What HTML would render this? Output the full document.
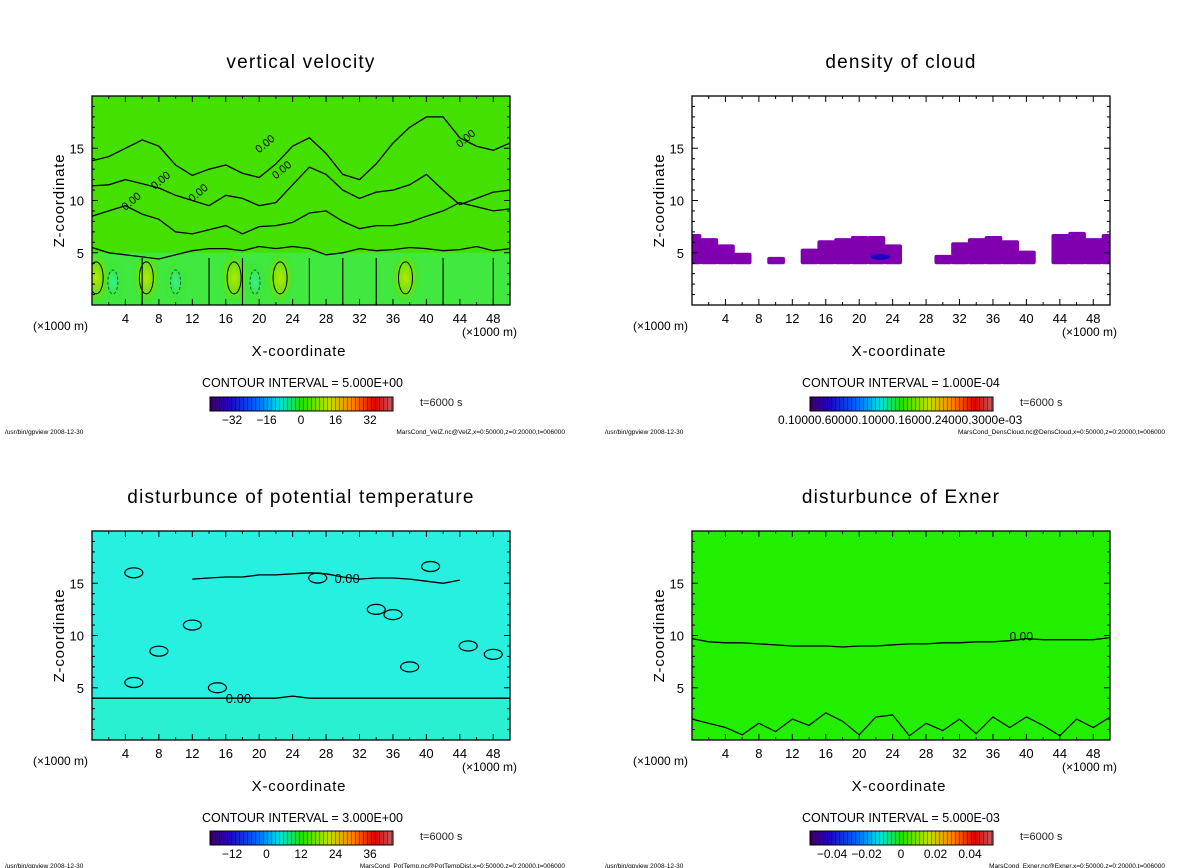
<!DOCTYPE html>
<html><head><meta charset="utf-8">
<style>
body{margin:0;background:#fff;}
svg{display:block;font-family:"Liberation Sans",sans-serif;}
</style></head>
<body>
<svg id="root" width="1200" height="868" xmlns="http://www.w3.org/2000/svg">
<defs id="defs">
<linearGradient id="rainbow" x1="0" x2="1" y1="0" y2="0">
<stop offset="0" stop-color="#400060"/><stop offset="0.1" stop-color="#2000c0"/><stop offset="0.25" stop-color="#0060ff"/>
<stop offset="0.38" stop-color="#00e0e0"/><stop offset="0.5" stop-color="#20e000"/><stop offset="0.65" stop-color="#c0e000"/>
<stop offset="0.78" stop-color="#ff8000"/><stop offset="0.9" stop-color="#e00000"/><stop offset="1" stop-color="#c06060"/>
</linearGradient>
<pattern id="stripes" width="4" height="20" patternUnits="userSpaceOnUse"><rect x="3" width="1" height="20" fill="rgba(0,0,0,0.35)"/></pattern>
<radialGradient id="yel"><stop offset="0" stop-color="#b8e800"/><stop offset="0.6" stop-color="#80e000" stop-opacity="0.7"/><stop offset="1" stop-color="#44e000" stop-opacity="0"/></radialGradient>
<radialGradient id="cyn"><stop offset="0" stop-color="#30f0a0"/><stop offset="1" stop-color="#44e000" stop-opacity="0"/></radialGradient>
</defs>
</svg>
<script>
const NS="http://www.w3.org/2000/svg";
const root=document.getElementById('root');
const defs=document.getElementById('defs');
function mk(tag,attrs,parent,text){const e=document.createElementNS(NS,tag);for(const k in attrs)e.setAttribute(k,attrs[k]);if(text!==undefined)e.textContent=text;(parent||root).appendChild(e);return e;}

// ---- data ----
const xTicks=[4,8,12,16,20,24,28,32,36,40,44,48];
const zTicks=[5,10,15];
const titles=["vertical velocity","density of cloud","disturbunce of potential temperature","disturbunce of Exner"];
const intervals=["5.000E+00","1.000E-04","3.000E+00","5.000E-03"];
const cbLabels1=["-32","-16","0","16","32"];
const cbLabels3=["-12","0","12","24","36"];
const cbLabels4=["-0.04","-0.02","0","0.02","0.04"];
const footers=["MarsCond_VelZ.nc@VelZ,x=0:50000,z=0:20000,t=006000","MarsCond_DensCloud.nc@DensCloud,x=0:50000,z=0:20000,t=006000","MarsCond_PotTemp.nc@PotTempDist,x=0:50000,z=0:20000,t=006000","MarsCond_Exner.nc@Exner,x=0:50000,z=0:20000,t=006000"];
const velLineA=[13.8,14.2,15,15.8,15.2,13.4,12.4,13,13.4,12.6,12.2,13.5,15.2,16,14.5,12.5,12,13.5,15.5,17,18,18,16,15.2,14.8,15.5];
const velLineB=[11.4,11.5,12,11.6,11.2,10.5,10,9.5,10.5,10.2,9.5,9.8,11.5,13.2,12.5,11,10.2,10.8,11,11.5,12.5,11,9.6,10.2,10.8,11];
const velLineC=[8.5,9,9.5,8.7,8.2,7,6.8,7.2,7.6,6.8,7.5,7.6,7.9,8.8,9,8,7.3,7.6,7.6,7.9,8.5,9,9.8,9.4,9,9.2];
const velLineD=[5.5,5,4.8,4.6,4.4,4.8,5.2,5.4,5.4,5.2,5.6,5.4,5.6,5.4,4.8,5,5.4,5.2,5.3,5.5,5.4,5.2,5.3,5.6,5.2,5.4];
const velWarmX=[0.5,6.5,17,22.5,37.5];
const velColdX=[2.5,10,19.5];
const cloudTop=[6.8,6.4,5.8,5,0,4.6,0,5.4,6.2,6.4,6.6,6.6,5.8,0,0,4.8,6,6.4,6.6,6.2,5.2,0,6.8,7,6.4,6.8];
const ptSurface=[4,4,4,4,4,4,4,4,4,4,4,4,4.2,4,4,4,4,4,4,4,4,4,4,4,4,4];
const ptUpper=[null,null,null,null,null,null,15.4,15.5,15.6,15.6,15.8,15.8,15.9,16,15.9,15.6,15.4,15.5,15.5,15.4,15.2,15,15.3,null,null,null];
const exLine=[9.7,9.4,9.3,9.3,9.2,9.1,9,9,9,8.9,9,9,9.1,9.2,9.2,9.3,9.3,9.4,9.4,9.5,9.7,9.6,9.6,9.6,9.6,9.8];
const exBottom=[2,1.6,1.2,0.5,1.6,0.8,2,1.4,2.6,1.8,0.5,2.2,2.4,0.4,1.6,0.9,2,0.6,2.2,1.2,2.2,1.4,0.4,2,1.2,2.2];

const panels=[{x0:92,y0:96},{x0:692,y0:96},{x0:92,y0:531},{x0:692,y0:531}];
const W=418,H=209;

function axis(p){const px=x=>p.x0+x/50*W;const pz=z=>p.y0+H-z/20*H;return{px,pz};}
function linePath(arr,a){let d="";arr.forEach((z,i)=>{if(z===null)return;const c=(d===""||arr[i-1]===null)?"M":"L";d+=c+a.px(i*2).toFixed(1)+","+a.pz(z).toFixed(1)+" ";});return d;}

panels.forEach((p,k)=>{
  const a=axis(p);
  const cp=mk('clipPath',{id:'clip'+k},defs);
  mk('rect',{x:p.x0,y:p.y0,width:W,height:H},cp);
  const g=mk('g',{});
  
  
  const cx=p.x0+W/2;
  const t=mk('text',{x:cx,y:p.y0-28,'font-size':19,'letter-spacing':'1.2','text-anchor':'middle',fill:'#000'},g,titles[k]);
  
  
  const pg=mk('g',{'clip-path':'url(#clip'+k+')'},g);
  
  
  const bgColor=['#44e000','#ffffff','#28f0e0','#22ee00'][k];
  const bg=mk('rect',{x:p.x0,y:p.y0,width:W,height:H,fill:bgColor},pg);
  
  
  if(k===0){
    mk('rect',{x:p.x0,y:a.pz(5),width:W,height:a.pz(0)-a.pz(5),fill:'#40e840'},pg);
    velWarmX.forEach(x=>{const e=mk('ellipse',{cx:a.px(x),cy:a.pz(2.6),rx:14,ry:26,fill:'url(#yel)'},pg);});
    velColdX.forEach(x=>{const e=mk('ellipse',{cx:a.px(x),cy:a.pz(2.2),rx:12,ry:22,fill:'url(#cyn)'},pg);});
    [velLineA,velLineB,velLineC,velLineD].forEach(L=>{const e=mk('path',{d:linePath(L,a),fill:'none',stroke:'#000','stroke-width':1.3},pg);});
    velWarmX.forEach(x=>{const e=mk('ellipse',{cx:a.px(x),cy:a.pz(2.6),rx:7,ry:16,fill:'none',stroke:'#000','stroke-width':1},pg);});
    velColdX.forEach(x=>{const e=mk('ellipse',{cx:a.px(x),cy:a.pz(2.2),rx:5,ry:12,fill:'none',stroke:'#106040','stroke-width':1,'stroke-dasharray':'3,2'},pg);});
    [[4,9],[7.5,11],[12,9.8],[20,14.5],[22,12],[44,15]].forEach(q=>{const e=mk('text',{x:a.px(q[0]),y:a.pz(q[1]),'font-size':11,fill:'#000',transform:`rotate(-40 ${a.px(q[0])} ${a.pz(q[1])})`},pg,'0.00');});
    [6,14,18,26,30,34,42,48].forEach(x=>{mk('line',{x1:a.px(x),y1:a.pz(0),x2:a.px(x),y2:a.pz(4.5),stroke:'#000','stroke-width':1.1},pg);});
  }
  if(k===1){
    cloudTop.forEach((z,i)=>{if(!z)return;const e=mk('rect',{x:a.px(i*2-1),y:a.pz(z),width:a.px(2)-a.px(0)+1,height:a.pz(3.9)-a.pz(z),fill:'#8000b0',rx:2},pg);});
    mk('ellipse',{cx:a.px(22.5),cy:a.pz(4.6),rx:10,ry:3,fill:'#2000c0'},pg);
  }
  if(k===2){
    mk('rect',{x:p.x0,y:a.pz(4),width:W,height:a.pz(0)-a.pz(4),fill:'#28f0d0'},pg);
    [ptSurface,ptUpper].forEach(L=>{const e=mk('path',{d:linePath(L,a),fill:'none',stroke:'#000','stroke-width':1.3},pg);});
    [[5,16],[12,11],[8,8.5],[27,15.5],[40.5,16.6],[36,12],[34,12.5],[45,9],[48,8.2],[38,7],[5,5.5],[15,5]].forEach(q=>{const e=mk('ellipse',{cx:a.px(q[0]),cy:a.pz(q[1]),rx:9,ry:5,fill:'none',stroke:'#000','stroke-width':1.2},pg);});
    [[16,4],[29,15.5]].forEach(q=>{const e=mk('text',{x:a.px(q[0]),y:a.pz(q[1])+5,'font-size':13,fill:'#000'},pg,'0.00');});
  }
  if(k===3){
    const e=mk('path',{d:linePath(exLine,a),fill:'none',stroke:'#000','stroke-width':1.3},pg);
    
    
    const e2=mk('path',{d:linePath(exBottom,a),fill:'none',stroke:'#000','stroke-width':1.2},pg);
    
    
    mk('text',{x:a.px(38),y:a.pz(9.8)+3,'font-size':12,fill:'#000'},pg,'0.00');
  }
  mk('rect',{x:p.x0,y:p.y0,width:W,height:H,fill:'none',stroke:'#000','stroke-width':1.3},g);
  for(let x=0;x<=50;x+=2){const L=(x%4===0)?6:3;mk('line',{x1:a.px(x),y1:p.y0+H,x2:a.px(x),y2:p.y0+H-L,stroke:'#000'},g);mk('line',{x1:a.px(x),y1:p.y0,x2:a.px(x),y2:p.y0+L,stroke:'#000'},g);}
  for(let z=0;z<=20;z++){const L=(z%5===0)?6:3;mk('line',{x1:p.x0,y1:a.pz(z),x2:p.x0+L,y2:a.pz(z),stroke:'#000'},g);mk('line',{x1:p.x0+W,y1:a.pz(z),x2:p.x0+W-L,y2:a.pz(z),stroke:'#000'},g);}
  xTicks.forEach(x=>{const e=mk('text',{x:a.px(x),y:p.y0+H+18,'font-size':13,'text-anchor':'middle'},g,String(x));});
  zTicks.forEach(z=>{const e=mk('text',{x:p.x0-8,y:a.pz(z)+5,'font-size':13,'text-anchor':'end'},g,String(z));});
  mk('text',{x:p.x0-59,y:p.y0+H+25,'font-size':12},g,'(\u00d71000 m)');
  mk('text',{x:p.x0+W+7,y:p.y0+H+31,'font-size':12,'text-anchor':'end'},g,'(\u00d71000 m)');
  const xt=mk('text',{x:cx-2,y:p.y0+H+51,'font-size':15,'letter-spacing':'0.8','text-anchor':'middle'},g,'X-coordinate');
  
  const zx=p.x0-28,zy=p.y0+H/2;
  const zt=mk('text',{x:zx,y:zy,'font-size':15,'letter-spacing':'0.8','text-anchor':'middle',transform:`rotate(-90 ${zx} ${zy})`},g,'Z-coordinate');
  
  const off=p.x0-92;
  const ci=mk('text',{x:off+202,y:p.y0+H+82,'font-size':12.5},g,'CONTOUR INTERVAL = '+intervals[k]);
  
  const cbY=p.y0+H+92+(k>=2?-1:0);
  const cb=mk('rect',{x:off+210,y:cbY,width:183,height:14,fill:'url(#rainbow)'},g);
  
  mk('rect',{x:off+210,y:cbY,width:183,height:14,fill:'url(#stripes)',stroke:'#000','stroke-width':1},g);
  mk('text',{x:off+420,y:cbY+9,'font-size':11,fill:'#222'},g,'t=6000 s');
  const labs=[cbLabels1,null,cbLabels3,cbLabels4][k];
  if(labs){labs.forEach((s,i)=>{const n=labs.length;const e=mk('text',{x:off+232+i*(138/(n-1)),y:cbY+27,'font-size':12,'text-anchor':'middle'},g,s.replace('-','\u2212'));});}
  else{mk('text',{x:off+178,y:cbY+27,'font-size':12},g,'0.10000.60000.10000.16000.24000.3000e-03');}
  mk('text',{x:off+5,y:cbY+37,'font-size':6.5},g,'/usr/bin/gpview   2008-12-30');
  mk('text',{x:off+565,y:cbY+37,'font-size':6.5,'text-anchor':'end'},g,footers[k]);
});
</script>
</body></html>
